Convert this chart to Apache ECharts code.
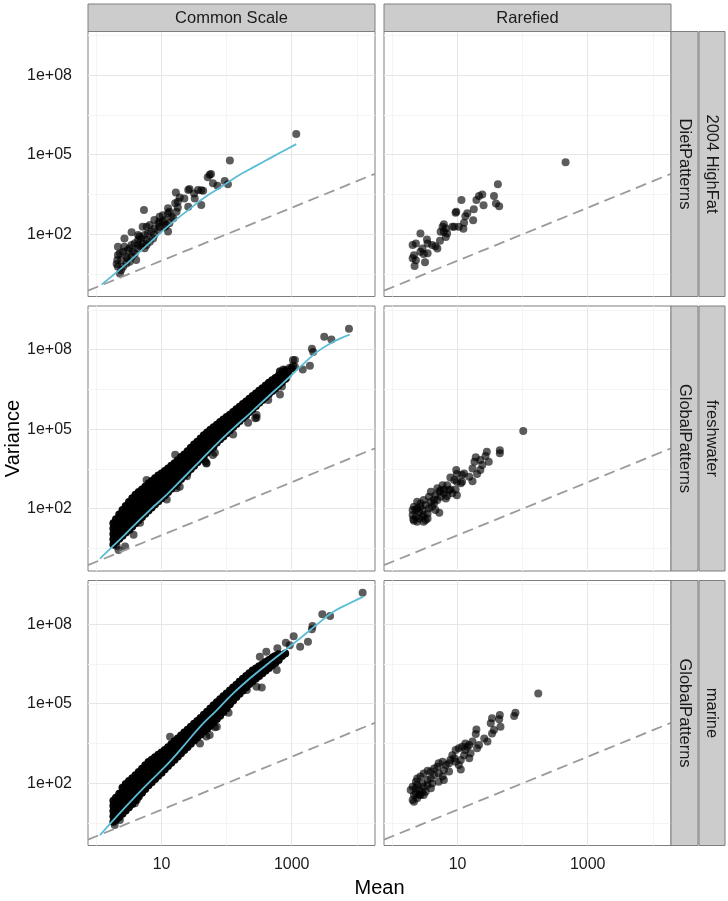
<!DOCTYPE html>
<html><head><meta charset="utf-8">
<script src="https://cdn.jsdelivr.net/npm/echarts@6/dist/echarts.min.js"></script>
<style>html,body{margin:0;padding:0;background:#fff}#c{width:728px;height:901px}</style>
</head><body><div id="c"></div>
<script>
// All values are log10(Mean), log10(Variance)
const X_TICKS = [1, 3];
const X_TICK_LABELS = ['10', '1000'];
const X_MINOR = [0, 2, 4];
const Y_TICKS = [2, 5, 8];
const Y_TICK_LABELS = ['1e+02', '1e+05', '1e+08'];
const Y_MINOR = [0.5, 3.5, 6.5, 9.5];
const X_MIN = -0.13, X_MAX = 4.28, Y_MIN = -0.35, Y_MAX = 9.65;

const colLabels = ['Common Scale', 'Rarefied'];
const rowInner = ['DietPatterns', 'GlobalPatterns', 'GlobalPatterns'];
const rowOuter = ['2004 HighFat', 'freshwater', 'marine'];

const dietCommon = [[3.07,5.78],[2.05,4.78],[1.74,4.24],[1.76,4.27],[1.71,4.15],[1.79,3.92],[1.97,4.01],[2.02,3.89],[1.86,3.83],[1.41,3.67],[1.43,3.71],[1.22,3.57],[1.56,3.67],[1.64,3.64],[1.61,3.66],[1.50,3.54],[1.51,3.35],[1.28,3.39],[1.21,3.17],[1.61,3.10],[1.41,3.04],[1.25,3.01],[1.12,2.85],[1.10,2.79],[1.02,2.72],[0.73,2.91],[1.18,2.60],[0.97,2.47],[0.95,2.41],[1.07,2.35],[1.10,2.10],[0.82,2.35],[0.77,2.28],[0.71,2.28],[0.95,2.16],[0.89,1.97],[0.64,1.97],[0.66,1.91],[0.54,2.07],[0.43,1.84],[0.77,1.78],[0.71,1.66],[0.82,1.72],[0.59,1.66],[0.64,1.59],[0.51,1.47],[0.33,1.53],[0.36,1.28],[0.33,1.22],[0.46,1.15],[0.48,1.09],[0.41,1.34],[0.56,1.34],[0.61,1.03],[0.31,0.88],[0.33,0.77],[0.38,0.65],[0.36,0.52],[0.69,1.53],[0.74,1.47],[0.89,2.22],[1.05,2.54],[1.15,2.66],[1.23,2.85],[1.12,2.41],[0.43,1.53],[0.48,1.40],[0.54,1.59],[0.38,1.03],[0.46,0.90],[0.51,0.96],[0.59,1.28],[0.64,1.78],[0.69,1.84],[0.74,1.97],[0.79,2.03],[0.84,2.10],[0.87,1.84],[0.54,1.15],[0.41,0.77],[0.32,1.03],[0.64,1.47],[0.77,1.59],[0.97,2.28],[1.02,2.47],[0.89,2.54],[1.10,2.98],[1.25,3.23],[1.35,3.35],[0.97,2.66],[1.05,2.28]];
const dietRare = [[2.66,4.72],[1.62,3.89],[1.56,3.44],[1.59,3.16],[1.64,3.06],[1.40,3.09],[1.38,3.50],[1.33,3.44],[1.29,3.29],[1.06,3.29],[1.25,2.94],[1.24,2.53],[1.15,2.79],[1.12,2.68],[0.98,2.85],[0.97,2.81],[1.10,2.43],[1.09,2.21],[1.02,2.28],[0.95,2.28],[0.79,2.38],[0.77,2.28],[0.82,2.22],[0.74,2.09],[0.79,2.09],[0.84,2.03],[0.73,1.75],[0.66,1.55],[0.69,1.46],[0.61,1.59],[0.53,1.80],[0.54,1.65],[0.43,2.03],[0.31,1.59],[0.36,1.65],[0.46,1.46],[0.43,1.34],[0.54,1.28],[0.48,1.25],[0.33,1.21],[0.31,1.09],[0.36,1.02],[0.34,0.80],[0.50,0.94],[0.82,1.90],[0.92,2.28]];
const dietSmooth = [[0.08,0.10],[0.38,0.71],[0.64,1.28],[0.89,1.84],[1.15,2.41],[1.41,2.91],[1.66,3.39],[1.92,3.79],[2.17,4.20],[2.43,4.55],[2.69,4.90],[3.07,5.40]];

// heavily over-plotted band: each row = [log10 mean, log10 variance values...]
const freshBand = [
[0.26,0.65,0.85,1.05,1.25,1.45],[0.30,0.75,0.95,1.15,1.35,1.60],[0.35,0.87,1.07,1.27,1.47,1.65,1.78],[0.40,0.98,1.18,1.38,1.58,1.78,1.95],
[0.45,1.10,1.30,1.50,1.70,1.90,2.10],[0.50,1.22,1.42,1.62,1.82,2.02,2.25],[0.55,1.33,1.53,1.73,1.93,2.13,2.40],[0.60,1.45,1.65,1.85,2.05,2.25,2.53],
[0.65,1.57,1.77,1.97,2.17,2.40,2.63],[0.70,1.69,1.89,2.09,2.29,2.50,2.73],[0.75,1.81,2.01,2.21,2.41,2.62,2.83],[0.80,1.93,2.13,2.33,2.53,2.75,2.95],
[0.85,2.05,2.25,2.45,2.65,2.85,3.05],[0.90,2.17,2.37,2.57,2.77,2.97,3.15],[0.95,2.28,2.48,2.68,2.88,3.07,3.25],[1.00,2.40,2.60,2.80,3.00,3.17,3.33],
[1.05,2.51,2.71,2.91,3.11,3.27,3.42],[1.10,2.63,2.83,3.03,3.23,3.38,3.52],[1.15,2.75,2.95,3.15,3.35,3.50,3.62],[1.20,2.88,3.08,3.28,3.48,3.72],
[1.25,3.00,3.20,3.40,3.60,3.83],[1.30,3.12,3.32,3.52,3.72,3.95],[1.35,3.25,3.45,3.65,3.85,4.05],[1.40,3.37,3.57,3.77,3.97,4.17],
[1.45,3.50,3.70,3.90,4.10,4.30],[1.50,3.62,3.82,4.02,4.22,4.42],[1.55,3.75,3.95,4.15,4.35,4.53],[1.60,3.87,4.07,4.27,4.47,4.65],
[1.65,4.00,4.20,4.40,4.60,4.77],[1.70,4.12,4.32,4.52,4.72,4.88],[1.75,4.25,4.45,4.65,4.83,4.98],[1.80,4.37,4.57,4.77,4.93,5.07],
[1.85,4.50,4.70,4.90,5.05,5.17],[1.90,4.62,4.82,5.02,5.17,5.27],[1.95,4.73,4.93,5.13,5.30,5.37],[2.00,4.85,5.05,5.25,5.46],
[2.05,4.96,5.16,5.36,5.55],[2.10,5.08,5.28,5.48,5.65],[2.15,5.20,5.40,5.60,5.75],[2.20,5.31,5.51,5.71,5.85],
[2.25,5.42,5.62,5.82,5.95],[2.30,5.53,5.73,5.93,6.05],[2.35,5.65,5.85,6.05,6.15],[2.40,5.76,5.96,6.16,6.25],
[2.45,5.88,6.08,6.28,6.35],[2.50,6.00,6.20,6.45],[2.55,6.10,6.30,6.55],[2.60,6.22,6.42,6.65],[2.65,6.33,6.53,6.75],
[2.70,6.44,6.64,6.85],[2.75,6.55,6.75,6.93],[2.80,6.66,6.86,7.02],[2.85,6.77,6.95,7.10],[2.90,6.90,7.20],[2.95,7.10],[3.00,7.30]];
const freshOut = [[3.88,8.79],[3.50,8.49],[3.61,8.39],[3.33,7.91],[3.31,8.04],[3.05,7.61],[3.28,7.40],[3.17,7.25],[3.02,7.40],[2.82,7.19],[2.87,7.25],[2.97,7.32],[2.92,6.94],[2.82,6.31],[2.77,6.62],[2.46,6.12],[2.33,5.24],[2.46,5.43],[2.10,4.80],[1.79,4.30],[1.82,4.11],[1.67,3.79],[1.69,3.73],[1.21,4.04],[1.39,3.23],[1.08,2.35],[0.87,2.22],[0.57,1.02],[0.31,0.59],[0.67,1.47],[0.51,1.21],[2.72,6.48],[2.82,7.17],[2.90,7.24],[3.02,7.61],[3.05,7.36],[2.85,6.61],[2.64,6.10],[2.44,5.41],[2.46,5.54],[1.69,3.71],[1.79,4.03],[1.64,3.90],[1.28,2.83],[1.23,2.77],[0.44,0.57],[0.34,0.44],[0.77,3.08]];
const freshRare = [[2.01,4.93],[1.65,4.21],[1.65,4.09],[1.45,4.15],[1.43,3.99],[1.35,3.84],[1.28,3.94],[1.26,3.77],[1.48,3.77],[1.38,3.65],[1.23,3.52],[1.35,3.46],[1.30,3.31],[1.23,3.04],[1.18,3.21],[1.10,3.33],[1.07,3.27],[0.98,3.46],[0.99,3.31],[0.89,3.18],[0.95,3.08],[0.99,3.02],[1.05,2.96],[0.97,2.73],[0.99,2.51],[0.84,2.89],[0.87,2.70],[0.77,2.89],[0.79,2.73],[0.69,2.77],[0.72,2.64],[0.84,2.48],[0.82,2.39],[0.66,2.51],[0.64,2.35],[0.59,2.64],[0.56,2.45],[0.64,2.20],[0.72,1.85],[0.66,1.95],[0.48,2.33],[0.51,2.14],[0.43,2.20],[0.38,2.26],[0.33,2.07],[0.31,1.95],[0.38,2.01],[0.41,1.89],[0.46,1.95],[0.48,1.76],[0.31,1.76],[0.32,1.60],[0.36,1.70],[0.41,1.63],[0.46,1.70],[0.51,1.57],[0.54,1.82],[0.56,2.01],[0.36,1.95],[0.43,2.07],[0.54,1.63],[0.48,1.51],[0.38,1.51],[0.33,1.55],[0.61,2.07],[0.59,2.26],[0.74,2.45],[0.69,2.33],[0.89,2.73],[0.92,2.58],[0.79,2.58],[0.74,2.70],[1.07,3.02]];
const freshSmooth = [[0.054,0.12],[0.31,0.72],[0.57,1.35],[0.82,1.95],[1.08,2.53],[1.33,3.15],[1.59,3.80],[1.85,4.45],[2.10,5.03],[2.36,5.60],[2.61,6.17],[2.87,6.75],[3.13,7.35],[3.38,7.90],[3.64,8.30],[3.89,8.57]];

const marineBand = [
[0.26,0.55,0.75,0.95,1.15,1.34],[0.30,0.62,0.82,1.02,1.22,1.45],[0.35,0.73,0.93,1.13,1.33,1.60],[0.40,0.85,1.05,1.25,1.45,1.65,1.83],
[0.45,0.97,1.17,1.37,1.57,1.77,1.97],[0.50,1.09,1.29,1.49,1.69,1.89,2.08],[0.55,1.22,1.42,1.62,1.82,2.02,2.19],[0.60,1.36,1.56,1.76,1.96,2.16,2.30],
[0.65,1.50,1.70,1.90,2.10,2.28,2.42],[0.70,1.64,1.84,2.04,2.24,2.40,2.55],[0.75,1.78,1.98,2.18,2.38,2.53,2.68],[0.80,1.92,2.12,2.32,2.52,2.66,2.80],
[0.85,2.04,2.24,2.44,2.64,2.89],[0.90,2.16,2.36,2.56,2.76,2.98],[0.95,2.28,2.48,2.68,2.88,3.07],[1.00,2.40,2.60,2.80,3.00,3.16],
[1.05,2.53,2.73,2.93,3.13,3.25],[1.10,2.65,2.85,3.05,3.25,3.36],[1.15,2.77,2.97,3.17,3.37,3.47],[1.20,2.89,3.09,3.29,3.49,3.58],
[1.25,3.01,3.21,3.41,3.69],[1.30,3.13,3.33,3.53,3.80],[1.35,3.25,3.45,3.65,3.91],[1.40,3.37,3.57,3.77,4.02],
[1.45,3.49,3.69,3.89,4.13],[1.50,3.61,3.81,4.01,4.24],[1.55,3.73,3.93,4.13,4.35],[1.60,3.84,4.04,4.24,4.46],
[1.65,3.95,4.15,4.35,4.58],[1.70,4.06,4.26,4.46,4.70],[1.75,4.17,4.37,4.57,4.82],[1.80,4.29,4.49,4.69,4.94],
[1.85,4.42,4.62,4.82,5.06],[1.90,4.55,4.75,4.95,5.17],[1.95,4.69,4.89,5.09,5.28],[2.00,4.83,5.03,5.23,5.39],
[2.05,4.98,5.18,5.38,5.50],[2.10,5.12,5.32,5.50,5.61],[2.15,5.25,5.45,5.72],[2.20,5.38,5.58,5.83],
[2.25,5.50,5.70,5.94],[2.30,5.62,5.82,6.05],[2.35,5.74,5.94,6.15],[2.40,5.85,6.05,6.25],
[2.45,5.95,6.15,6.33],[2.50,6.05,6.25,6.41],[2.55,6.15,6.35,6.49],[2.60,6.25,6.45,6.57],
[2.65,6.35,6.65],[2.70,6.45,6.73],[2.75,6.55,6.80],[2.80,6.65,6.87],[2.85,6.80],[2.90,6.90]];
const marineOut = [[4.09,9.19],[3.47,8.38],[3.59,8.31],[3.32,7.93],[3.31,7.81],[3.03,7.55],[3.25,7.34],[3.13,7.15],[2.91,7.30],[2.97,7.21],[2.78,7.09],[2.77,6.27],[2.63,6.40],[2.54,5.61],[2.46,5.64],[2.31,5.52],[2.10,5.20],[2.05,5.08],[2.03,4.66],[1.85,4.13],[1.74,3.82],[1.82,4.11],[1.69,3.76],[1.59,3.50],[1.18,3.25],[1.28,3.38],[0.98,2.50],[0.62,1.37],[0.59,1.24],[0.36,0.61],[0.28,0.42],[0.72,2.25],[1.13,3.75],[2.51,6.77],[2.61,6.96],[2.41,6.15],[2.20,5.83],[2.72,6.77]];
const marineRare = [[2.24,5.39],[1.89,4.66],[1.87,4.54],[1.65,4.57],[1.64,4.41],[1.53,4.45],[1.51,4.26],[1.66,4.13],[1.56,4.01],[1.53,3.88],[1.29,4.03],[1.28,3.86],[1.41,3.69],[1.46,3.57],[1.33,3.44],[1.30,3.32],[1.23,3.57],[1.18,3.44],[1.12,3.50],[1.07,3.38],[1.02,3.32],[0.97,3.25],[1.12,3.25],[1.10,3.06],[1.05,2.88],[1.02,2.69],[1.20,3.13],[1.18,2.94],[1.05,2.52],[0.92,3.06],[0.89,2.88],[0.87,2.75],[0.82,2.69],[0.77,2.81],[0.71,2.75],[0.69,2.62],[0.64,2.56],[0.79,2.50],[0.87,2.44],[0.59,2.44],[0.54,2.47],[0.48,2.37],[0.43,2.25],[0.38,2.18],[0.36,2.06],[0.31,1.87],[0.28,1.74],[0.33,1.56],[0.31,1.37],[0.41,1.74],[0.43,1.56],[0.48,1.87],[0.54,2.12],[0.59,2.18],[0.64,2.31],[0.71,2.37],[0.77,2.25],[0.79,2.12],[0.71,2.06],[0.61,1.99],[0.54,1.93],[0.46,1.99],[0.38,1.93],[0.36,1.81],[0.41,1.56],[0.48,1.56],[0.46,1.68],[0.38,1.43],[0.36,1.62],[0.33,1.30],[0.51,1.68],[0.59,1.81],[0.95,2.94],[0.97,2.81],[1.15,3.38]];
const marineSmooth = [[0.054,0.04],[0.26,0.61],[0.57,1.43],[0.82,2.06],[1.08,2.69],[1.33,3.38],[1.59,4.13],[1.85,4.76],[2.10,5.39],[2.36,5.96],[2.61,6.46],[2.87,6.96],[3.13,7.47],[3.38,7.97],[3.64,8.47],[3.89,8.79],[4.10,9.04]];

const flatBand = b => b.flatMap(([x, ...ys]) => ys.map(y => [x, y]));

// panels: row-major [row][col]
const panelPoints = [[dietCommon, dietRare], [freshOut, freshRare], [marineOut, marineRare]];
const panelBand = [[null, null], [flatBand(freshBand), null], [flatBand(marineBand), null]];
const panelSmooth = [[dietSmooth, null], [freshSmooth, null], [marineSmooth, null]];

// layout
const PANEL_LEFT = [88, 384], PANEL_W = 287;
const PANEL_TOP = [31.5, 306, 580.5], PANEL_H = 265;
const FONT = '"Liberation Sans", Arial, Helvetica, sans-serif';
const TEXT = '#1a1a1a';

const grids = [], xAxes = [], yAxes = [], series = [], graphics = [];
for (let r = 0; r < 3; r++) {
  for (let c = 0; c < 2; c++) {
    const i = grids.length;
    grids.push({left: PANEL_LEFT[c], top: PANEL_TOP[r], width: PANEL_W, height: PANEL_H,
      show: true, borderColor: '#7f7f7f', borderWidth: 1, backgroundColor: '#fff'});
    const bottom = r === 2, left = c === 0;
    xAxes.push({type: 'value', gridIndex: i, min: X_MIN, max: X_MAX,
      axisLine: {show: false}, splitLine: {show: false},
      axisTick: {show: bottom, customValues: X_TICKS, length: 5, lineStyle: {color: '#333', width: 1}},
      axisLabel: {show: bottom, customValues: X_TICKS, margin: 11, fontSize: 16, fontFamily: FONT, color: TEXT,
        formatter: v => X_TICK_LABELS[X_TICKS.indexOf(v)] || ''}});
    yAxes.push({type: 'value', gridIndex: i, min: Y_MIN, max: Y_MAX,
      axisLine: {show: false}, splitLine: {show: false},
      axisTick: {show: left, customValues: Y_TICKS, length: 5, lineStyle: {color: '#333', width: 1}},
      axisLabel: {show: left, customValues: Y_TICKS, margin: 16, fontSize: 16, fontFamily: FONT, color: TEXT,
        formatter: v => Y_TICK_LABELS[Y_TICKS.indexOf(v)] || ''}});
    // grid lines
    const gl = [];
    X_MINOR.forEach(v => gl.push({xAxis: v, lineStyle: {color: '#f4f4f4', width: 1, type: 'solid'}}));
    Y_MINOR.forEach(v => gl.push({yAxis: v, lineStyle: {color: '#f4f4f4', width: 1, type: 'solid'}}));
    X_TICKS.forEach(v => gl.push({xAxis: v, lineStyle: {color: '#e6e6e6', width: 1, type: 'solid'}}));
    Y_TICKS.forEach(v => gl.push({yAxis: v, lineStyle: {color: '#e6e6e6', width: 1, type: 'solid'}}));
    series.push({type: 'line', xAxisIndex: i, yAxisIndex: i, data: [[X_MIN, Y_MIN]], showSymbol: false,
      lineStyle: {width: 0}, silent: true, z: 1,
      markLine: {silent: true, symbol: 'none', z: 1, label: {show: false}, animation: false, data: gl}});
    if (panelBand[r][c]) {
      // over-plotted core of thousands of taxa
      series.push({type: 'scatter', xAxisIndex: i, yAxisIndex: i, data: panelBand[r][c], symbolSize: 8,
        itemStyle: {color: '#000', opacity: 0.97, borderWidth: 0}, z: 3, silent: true});
    }
    series.push({type: 'scatter', xAxisIndex: i, yAxisIndex: i, data: panelPoints[r][c], symbolSize: 8,
      itemStyle: {color: '#000', opacity: 0.64, borderWidth: 0}, z: 3, silent: true});
    // y = x reference line (spans the axis limits)
    series.push({type: 'line', xAxisIndex: i, yAxisIndex: i, data: [[X_MIN, X_MIN], [X_MAX, X_MAX]],
      showSymbol: false, lineStyle: {color: '#9a9a9a', width: 1.8, type: [11, 6]}, z: 4, silent: true});
    if (panelSmooth[r][c]) {
      series.push({type: 'line', xAxisIndex: i, yAxisIndex: i, data: panelSmooth[r][c], smooth: 0.4,
        showSymbol: false, lineStyle: {color: '#5BBCD6', width: 1.8}, z: 5, silent: true});
    }
  }
}

// strips
colLabels.forEach((lab, c) => {
  graphics.push({type: 'rect', shape: {x: PANEL_LEFT[c], y: 4, width: PANEL_W, height: PANEL_TOP[0] - 4},
    style: {fill: '#cccccc', stroke: '#7f7f7f', lineWidth: 1}, z: 10});
  graphics.push({type: 'text', x: PANEL_LEFT[c] + PANEL_W / 2, y: (4 + PANEL_TOP[0]) / 2 + 0.5, z: 11,
    style: {text: lab, font: '16.5px ' + FONT, fill: TEXT, textAlign: 'center', textVerticalAlign: 'middle', align: 'center', verticalAlign: 'middle'}});
});
const STRIP_IN_X = 671, STRIP_IN_W = 27, STRIP_OUT_X = 699, STRIP_OUT_W = 26;
for (let r = 0; r < 3; r++) {
  [[STRIP_IN_X, STRIP_IN_W, rowInner[r]], [STRIP_OUT_X, STRIP_OUT_W, rowOuter[r]]].forEach(([x, w, lab]) => {
    graphics.push({type: 'rect', shape: {x: x, y: PANEL_TOP[r], width: w, height: PANEL_H},
      style: {fill: '#cccccc', stroke: '#7f7f7f', lineWidth: 1}, z: 10});
    graphics.push({type: 'text', x: x + w / 2, y: PANEL_TOP[r] + PANEL_H / 2, rotation: -Math.PI / 2, z: 11,
      style: {text: lab, font: '16.5px ' + FONT, fill: TEXT, textAlign: 'center', textVerticalAlign: 'middle', align: 'center', verticalAlign: 'middle'}});
  });
}
// axis titles
graphics.push({type: 'text', x: 13, y: (PANEL_TOP[0] + PANEL_TOP[2] + PANEL_H) / 2, rotation: Math.PI / 2, z: 11,
  style: {text: 'Variance', font: '20px ' + FONT, fill: '#000', textAlign: 'center', textVerticalAlign: 'middle', align: 'center', verticalAlign: 'middle'}});
graphics.push({type: 'text', x: (PANEL_LEFT[0] + PANEL_LEFT[1] + PANEL_W) / 2, y: 888, z: 11,
  style: {text: 'Mean', font: '20px ' + FONT, fill: '#000', textAlign: 'center', textVerticalAlign: 'middle', align: 'center', verticalAlign: 'middle'}});

const chart = echarts.init(document.getElementById('c'), null, {renderer: 'canvas'});
chart.setOption({
  animation: false,
  backgroundColor: '#fff',
  grid: grids, xAxis: xAxes, yAxis: yAxes, series: series, graphic: graphics
});
</script></body></html>
